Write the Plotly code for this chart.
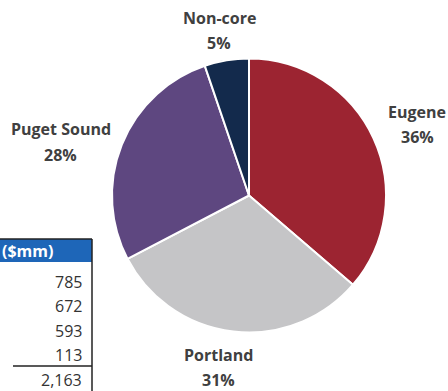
import plotly.graph_objects as go

# Data
segments = ["Eugene", "Portland", "Puget Sound", "Non-core"]
revenue = [785, 672, 593, 113]
pct_labels = ["36%", "31%", "28%", "5%"]
total_label = "2,163"
table_header = "($mm)"

colors = ["#9C2431", "#C5C5C7", "#5E4780", "#132A4C"]

W, H = 448, 391


def px(x):
    return x / W


def py(y):
    return (H - y) / H


fig = go.Figure()

fig.add_trace(go.Pie(
    labels=segments,
    values=revenue,
    sort=False,
    direction="clockwise",
    rotation=0,
    marker=dict(colors=colors, line=dict(color="white", width=2)),
    textinfo="none",
    hoverinfo="label+value+percent",
    showlegend=False,
    domain=dict(x=[px(112), px(386)], y=[py(333), py(58)]),
))

# Table (partially clipped at the left edge as in the reference)
shapes = [
    dict(type="rect", xref="paper", yref="paper", x0=0, x1=px(92),
         y0=py(262), y1=py(239), fillcolor="#1E66B8", line=dict(width=0), layer="below"),
    dict(type="line", xref="paper", yref="paper", x0=0, x1=px(92),
         y0=py(239), y1=py(239), line=dict(color="#222", width=1.5)),
    dict(type="line", xref="paper", yref="paper", x0=px(92), x1=px(92),
         y0=0, y1=py(239), line=dict(color="#222", width=1.5)),
    dict(type="line", xref="paper", yref="paper", x0=px(13), x1=px(92),
         y0=py(366), y1=py(366), line=dict(color="#222", width=1.5)),
]

annotations = [dict(
    text=f"<b>{table_header}</b>", x=0, y=py(251), xref="paper", yref="paper",
    xanchor="left", yanchor="middle", showarrow=False,
    font=dict(family="Open Sans", size=16, color="white"),
)]
cell_vals = [f"{v:,}" for v in revenue] + [total_label]
row_y = [282, 306, 331, 355, 380]
for v, yy in zip(cell_vals, row_y):
    annotations.append(dict(
        text=v, x=px(84), y=py(yy), xref="paper", yref="paper",
        xanchor="right", yanchor="middle", showarrow=False,
        font=dict(family="Open Sans", size=16, color="#333333"),
    ))

# Pie labels (name and percent lines)
label_pos = {
    "Eugene": (417, 112, 137),
    "Portland": (218, 355, 380),
    "Puget Sound": (61, 129, 155),
    "Non-core": (219, 18, 43),
}
for name, p in zip(segments, pct_labels):
    x, y1, y2 = label_pos[name]
    for txt, yy in ((name, y1), (p, y2)):
        annotations.append(dict(
            text=f"<b>{txt}</b>", x=px(x), y=py(yy), xref="paper", yref="paper",
            xanchor="center", yanchor="middle", showarrow=False,
            font=dict(family="Open Sans", size=16, color="#404040"),
        ))

fig.update_layout(
    width=W, height=H,
    margin=dict(l=0, r=0, t=0, b=0),
    paper_bgcolor="white", plot_bgcolor="white",
    shapes=shapes, annotations=annotations,
)

fig.write_html("out.html", config={"displayModeBar": False},
               post_script="document.body.style.margin='0';")
